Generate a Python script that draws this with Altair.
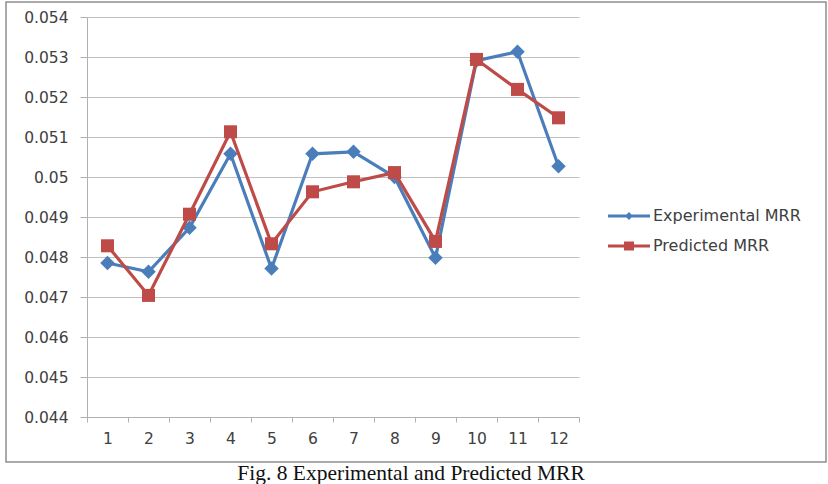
import altair as alt
import pandas as pd

runs = list(range(1, 13))
experimental = [0.04785, 0.04763, 0.04873, 0.05058, 0.04771, 0.05058,
                0.05063, 0.05000, 0.04798, 0.05291, 0.05313, 0.05027]
predicted = [0.04828, 0.04704, 0.04907, 0.05113, 0.04833, 0.04963,
             0.04988, 0.05011, 0.04839, 0.05294, 0.05219, 0.05148]
series_names = ["Experimental MRR", "Predicted MRR"]
series_colors = ["#4a7ebb", "#be4b48"]
series_shapes = ["diamond", "square"]
y_ticks = [0.044, 0.045, 0.046, 0.047, 0.048, 0.049, 0.050, 0.051, 0.052, 0.053, 0.054]
caption = "Fig. 8 Experimental and Predicted MRR"

df = pd.DataFrame({
    "run": runs * 2,
    "value": experimental + predicted,
    "series": [series_names[0]] * len(runs) + [series_names[1]] * len(runs),
})

FONT = "DejaVu Sans"
TXT = "#404040"
AXC = "#b0b0b0"

x_enc = alt.X(
    "run:O",
    scale=alt.Scale(type="band", paddingInner=0, paddingOuter=0),
    axis=alt.Axis(title=None, labelAngle=0, tickBand="extent", grid=False,
                  domainColor=AXC, tickColor=AXC, tickSize=5, labelPadding=9,
                  labelFont=FONT, labelFontSize=15.5, labelColor=TXT),
)
y_enc = alt.Y(
    "value:Q",
    scale=alt.Scale(domain=[y_ticks[0], y_ticks[-1]], nice=False, zero=False),
    axis=alt.Axis(title=None, values=y_ticks, format=".3~f", grid=True,
                  gridColor="#c0c0c0", domainColor=AXC, tickColor=AXC,
                  tickSize=7, labelPadding=12, labelFont=FONT,
                  labelFontSize=15.5, labelColor=TXT),
)

legend_paths = [
    "M-1,-0.075H1V0.075H-1Z M0,-0.19L0.19,0L0,0.19L-0.19,0Z",
    "M-1,-0.075H1V0.075H-1Z M-0.24,-0.22H0.24V0.22H-0.24Z",
]
legend_y = [178, 208]

layers = []
for i, name in enumerate(series_names):
    d = df[df["series"] == name]
    line = alt.Chart(d).mark_line(color=series_colors[i], strokeWidth=3.2).encode(
        x=x_enc, y=y_enc
    )
    pts = alt.Chart(d).mark_point(
        shape=series_shapes[i], filled=True, opacity=1,
        size=210 if series_shapes[i] == "diamond" else 170,
    ).encode(
        x=x_enc, y=y_enc,
        color=alt.Color(
            "series:N",
            scale=alt.Scale(domain=[name], range=[series_colors[i]]),
            legend=alt.Legend(
                title=None, orient="none", legendX=521, legendY=legend_y[i],
                symbolType=legend_paths[i], symbolSize=1764,
                symbolStrokeWidth=0, symbolOpacity=1, padding=0,
                labelFont=FONT, labelFontSize=16, labelColor=TXT,
                labelOffset=3,
            ),
        ),
    )
    layers += [line, pts]

frame = alt.Chart(alt.Data(values=[{}])).mark_rect(
    fill="transparent", stroke="#8f8f8f", strokeWidth=1.5
).encode(
    x=alt.value(-81), x2=alt.value(739), y=alt.value(-15), y2=alt.value(445)
)

cap = alt.Chart(alt.Data(values=[{"t": caption}])).mark_text(
    font="Liberation Serif", fontSize=21.5, color="#111111",
    align="center", baseline="alphabetic"
).encode(
    x=alt.value(324), y=alt.value(463), text="t:N"
)

chart = alt.layer(frame, *layers, cap).resolve_scale(color="independent").properties(
    width=492, height=400,
    padding={"left": 87, "top": 17, "right": 249, "bottom": 67},
    autosize=alt.AutoSizeParams(type="none"),
    background="white",
).configure_view(stroke=None)

chart.save("out.html", embed_options={"renderer": "svg", "actions": False})
